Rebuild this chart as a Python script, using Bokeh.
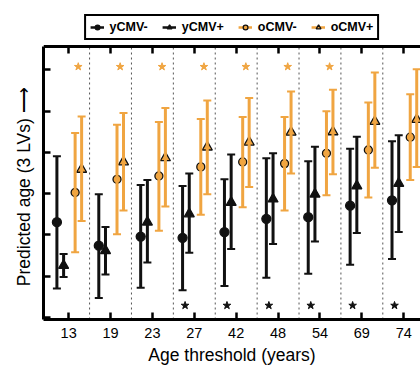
from bokeh.plotting import figure
from bokeh.models import (Range1d, FixedTicker, ColumnDataSource, Whisker, TeeHead,
                          Legend, LegendItem, LinearAxis)
from bokeh.transform import dodge
from bokeh.embed import file_html
from bokeh.resources import INLINE

# ---------------- data ----------------
thresholds = ["13", "19", "23", "27", "42", "48", "54", "69", "74"]
ytick_values = [0, 1, 2, 3, 4, 5, 6]

ycmv_neg_mean = [2.31, 1.74, 1.96, 1.93, 2.07, 2.39, 2.43, 2.71, 2.84]
ycmv_neg_lo   = [0.70, 0.47, 0.72, 0.66, 0.76, 0.96, 1.06, 1.28, 1.42]
ycmv_neg_hi   = [3.91, 2.99, 3.21, 3.19, 3.35, 3.86, 3.79, 4.09, 4.27]

ycmv_pos_mean = [1.26, 1.62, 2.31, 2.51, 2.79, 2.87, 2.99, 3.19, 3.25]
ycmv_pos_lo   = [0.98, 1.04, 1.33, 1.57, 1.66, 1.78, 1.84, 2.05, 2.07]
ycmv_pos_hi   = [1.54, 2.19, 3.33, 3.49, 3.95, 3.98, 4.14, 4.38, 4.42]

ocmv_neg_mean = [3.03, 3.35, 3.43, 3.65, 3.77, 3.73, 3.98, 4.06, 4.37]
ocmv_neg_lo   = [1.58, 2.02, 2.10, 2.49, 2.67, 2.59, 2.96, 2.91, 3.33]
ocmv_neg_hi   = [4.47, 4.67, 4.74, 4.81, 4.86, 4.86, 5.00, 5.21, 5.41]

ocmv_pos_mean = [3.59, 3.77, 3.87, 4.13, 4.25, 4.49, 4.50, 4.75, 4.80]
ocmv_pos_lo   = [2.34, 2.59, 2.69, 2.99, 3.16, 3.49, 3.47, 3.63, 3.65]
ocmv_pos_hi   = [4.87, 4.96, 5.08, 5.26, 5.32, 5.48, 5.52, 5.94, 6.02]

# significance flags (stars)
sig_young = [False, False, False, True, True, True, True, True, True]
sig_old   = [True, True, True, True, True, True, True, False, False]

# ---------------- style ----------------
BLACK = "#111111"
ORANGE = "#F0A541"
FONT = "Liberation Sans"

idx = list(range(len(thresholds)))

# value range of the boxed plot area, and the view range (extra room on top for the legend)
y_low, y_box_top, y_view_top = -0.05, 6.58, 7.685

p = figure(width=420, height=367,
           x_range=Range1d(-0.6, 8.4), y_range=Range1d(y_low, y_view_top),
           output_backend="svg", toolbar_location=None,
           x_axis_location=None, y_axis_location=None,
           min_border_left=43, min_border_right=0,
           min_border_top=0, min_border_bottom=46)
p.outline_line_color = None
p.grid.visible = False
p.background_fill_color = "white"
p.border_fill_color = "white"

# dotted separators between thresholds
seps = [i + 0.5 for i in idx[:-1]]
p.segment(x0="s", x1="s", y0=y_low, y1=y_box_top, source=ColumnDataSource(dict(s=seps)),
          line_color="#555555", line_width=1, line_dash="2 3", level="underlay")

series = [
    ("yCMV-", ycmv_neg_mean, ycmv_neg_lo, ycmv_neg_hi, -0.28, "circle", BLACK, BLACK, 9, BLACK),
    ("yCMV+", ycmv_pos_mean, ycmv_pos_lo, ycmv_pos_hi, -0.12, "triangle", BLACK, BLACK, 10, BLACK),
    ("oCMV-", ocmv_neg_mean, ocmv_neg_lo, ocmv_neg_hi, 0.155, "circle", ORANGE, BLACK, 8, ORANGE),
    ("oCMV+", ocmv_pos_mean, ocmv_pos_lo, ocmv_pos_hi, 0.31, "triangle", ORANGE, BLACK, 10, ORANGE),
]

items = []
for name, m, lo, hi, off, marker, fill, line, size, barc in series:
    src = ColumnDataSource(dict(x=idx, m=m, lo=lo, hi=hi))
    w = Whisker(base=dodge("x", off), upper="hi", lower="lo", source=src,
                dimension="height", line_color=barc, line_width=3, level="glyph",
                upper_head=TeeHead(size=8, line_color=barc, line_width=2),
                lower_head=TeeHead(size=8, line_color=barc, line_width=2))
    p.add_layout(w)
    r = p.scatter(x=dodge("x", off), y="m", source=src, marker=marker, size=size,
                  fill_color=fill, line_color=line, line_width=1.3)
    bar = p.vspan(x=[-50], line_color=barc, line_width=2.5)
    items.append(LegendItem(label=name, renderers=[bar, r]))

# significance stars
ys_old = [6.08 for s in sig_old if s]
xs_old = [i for i, s in zip(idx, sig_old) if s]
ys_young = [0.29 for s in sig_young if s]
xs_young = [i for i, s in zip(idx, sig_young) if s]
p.scatter(x=dodge("x", 0.23), y="y", source=ColumnDataSource(dict(x=xs_old, y=ys_old)),
          marker="star", size=8, fill_color=ORANGE, line_color=ORANGE)
p.scatter(x=dodge("x", -0.22), y="y", source=ColumnDataSource(dict(x=xs_young, y=ys_young)),
          marker="star", size=8, fill_color=BLACK, line_color=BLACK)

# axes
def style_axis(ax):
    ax.axis_line_width = 3
    ax.axis_line_color = "black"
    ax.major_tick_line_width = 2.5
    ax.major_tick_line_color = "black"
    ax.major_tick_in = 7
    ax.major_tick_out = 0
    ax.minor_tick_line_color = None

bottom = LinearAxis(ticker=FixedTicker(ticks=idx),
                    major_label_overrides={i: t for i, t in zip(idx, thresholds)},
                    axis_label="Age threshold (years)")
style_axis(bottom)
bottom.major_label_text_font = FONT
bottom.major_label_text_font_size = "14.5px"
bottom.major_label_text_color = "black"
bottom.major_label_standoff = 8
bottom.axis_label_text_font = FONT
bottom.axis_label_text_font_size = "17.5px"
bottom.axis_label_text_font_style = "normal"
bottom.axis_label_text_color = "black"
bottom.axis_label_standoff = 4
p.add_layout(bottom, "below")

top = LinearAxis(ticker=FixedTicker(ticks=idx), fixed_location=y_box_top)
style_axis(top)
top.major_label_text_color = None
top.major_label_text_font_size = "1px"
top.major_label_standoff = 0
p.add_layout(top, "above")

left = LinearAxis(ticker=FixedTicker(ticks=ytick_values), bounds=(y_low, y_box_top),
                  axis_label="Predicted age (3 LVs) \u27f6" + "\u00a0" * 11)
style_axis(left)
left.major_label_text_color = None
left.major_label_text_font_size = "1px"
left.major_label_standoff = 0
left.axis_label_text_font = FONT
left.axis_label_text_font_size = "17.5px"
left.axis_label_text_font_style = "normal"
left.axis_label_text_color = "black"
left.axis_label_standoff = 10
p.add_layout(left, "left")

legend = Legend(items=items, orientation="horizontal", location="top_center",
                border_line_color="black", border_line_width=2, border_line_alpha=1,
                background_fill_color="white", background_fill_alpha=1,
                label_text_font=FONT, label_text_font_size="12.5px",
                label_text_font_style="bold", label_text_color="black",
                glyph_width=14, glyph_height=12, label_standoff=6,
                spacing=14, padding=4, margin=14, label_height=12)
p.add_layout(legend, "center")

open("out.html", "w").write(file_html(p, INLINE))
